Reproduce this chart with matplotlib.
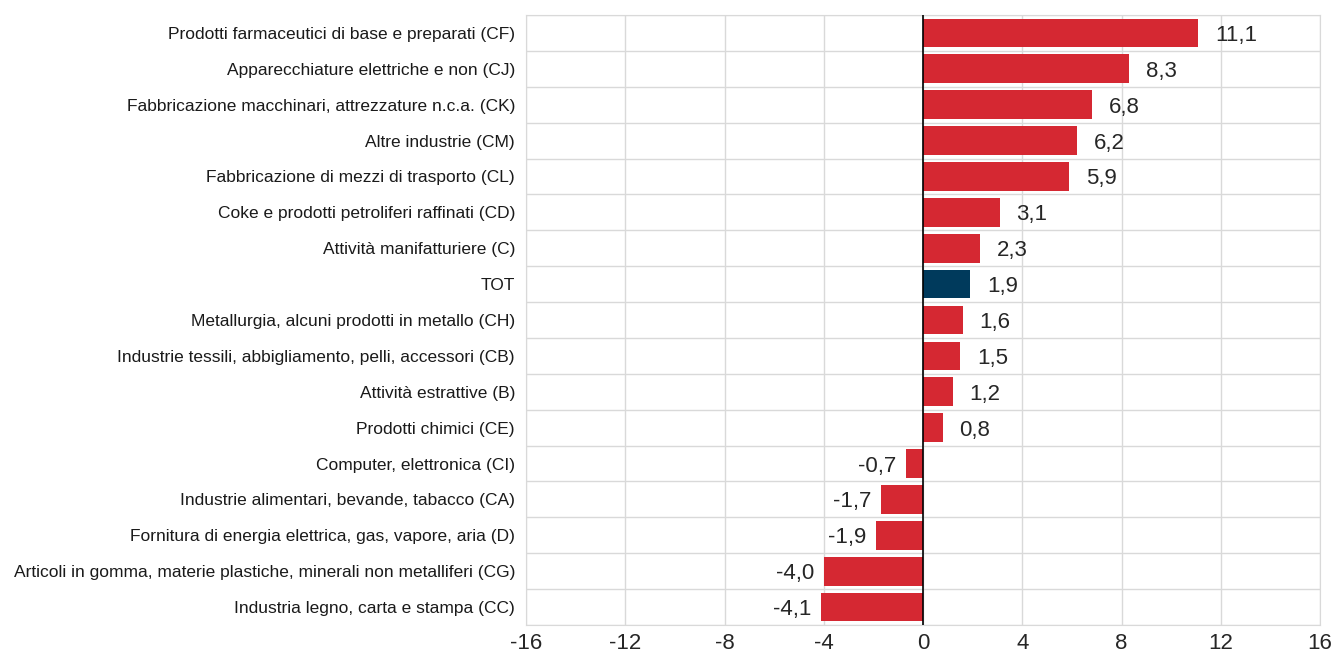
import numpy as np
import matplotlib as mp
from matplotlib import pyplot as plt
from matplotlib import font_manager

categories = [
    'Prodotti farmaceutici di base e preparati (CF)',
    'Apparecchiature elettriche e non (CJ)',
    'Fabbricazione macchinari, attrezzature n.c.a. (CK)',
    'Altre industrie (CM)',
    'Fabbricazione di mezzi di trasporto (CL)',
    'Coke e prodotti petroliferi raffinati (CD)',
    'Attività manifatturiere (C)',
    'TOT',
    'Metallurgia, alcuni prodotti in metallo (CH)',
    'Industrie tessili, abbigliamento, pelli, accessori (CB)',
    'Attività estrattive (B)',
    'Prodotti chimici (CE)',
    'Computer, elettronica (CI)',
    'Industrie alimentari, bevande, tabacco (CA)',
    'Fornitura di energia elettrica, gas, vapore, aria (D)',
    'Articoli in gomma, materie plastiche, minerali non metalliferi (CG)',
    'Industria legno, carta e stampa (CC)',
]
values = [11.1, 8.3, 6.8, 6.2, 5.9, 3.1, 2.3, 1.9, 1.6, 1.5, 1.2, 0.8,
          -0.7, -1.7, -1.9, -4.0, -4.1]
xticks = [-16, -12, -8, -4, 0, 4, 8, 12, 16]

RED = '#d52832'
NAVY = '#003a5c'

names = {f.name for f in font_manager.fontManager.ttflist}
family = 'Liberation Sans Narrow' if 'Liberation Sans Narrow' in names else 'Liberation Sans'
plt.rcParams['font.family'] = [family, 'DejaVu Sans']

fig = plt.figure(figsize=(13.37, 6.64), dpi=100)
ax = fig.add_axes([526 / 1337, 1 - 625 / 664, (1320 - 526) / 1337, (625 - 15) / 664])

y = np.arange(len(categories))
colors = [NAVY if c == 'TOT' else RED for c in categories]
ax.barh(y, values, height=0.8, color=colors, zorder=3)

for yi, v in zip(y, values):
    txt = '{:.1f}'.format(v).replace('.', ',')
    if v >= 0:
        ax.annotate(txt, (v, yi), xytext=(12, 0), textcoords='offset points',
                    ha='left', va='center_baseline', fontsize=16, color='#262626')
    else:
        ax.annotate(txt, (v, yi), xytext=(-7, 0), textcoords='offset points',
                    ha='right', va='center_baseline', fontsize=16, color='#262626')

ax.set_xlim(-16, 16)
ax.set_ylim(len(categories) - 0.5, -0.5)
ax.set_xticks(xticks)
ax.set_xticklabels([str(t) for t in xticks], fontsize=16, color='#262626')
ax.set_yticks(y)
ax.set_yticklabels(categories, fontsize=12.5, color='#1a1a1a')
ax.set_yticks(np.arange(len(categories) + 1) - 0.5, minor=True)

ax.grid(axis='x', which='major', color='#d9d9d9', linewidth=1, zorder=0)
ax.grid(axis='y', which='minor', color='#d9d9d9', linewidth=1, zorder=0)
ax.tick_params(axis='both', which='both', length=0)
ax.tick_params(axis='x', pad=6)
ax.tick_params(axis='y', pad=8)
for s in ax.spines.values():
    s.set_color('#d9d9d9')
ax.axvline(0, color='black', linewidth=1.2, zorder=4)

fig.savefig('out.png', dpi=100)
